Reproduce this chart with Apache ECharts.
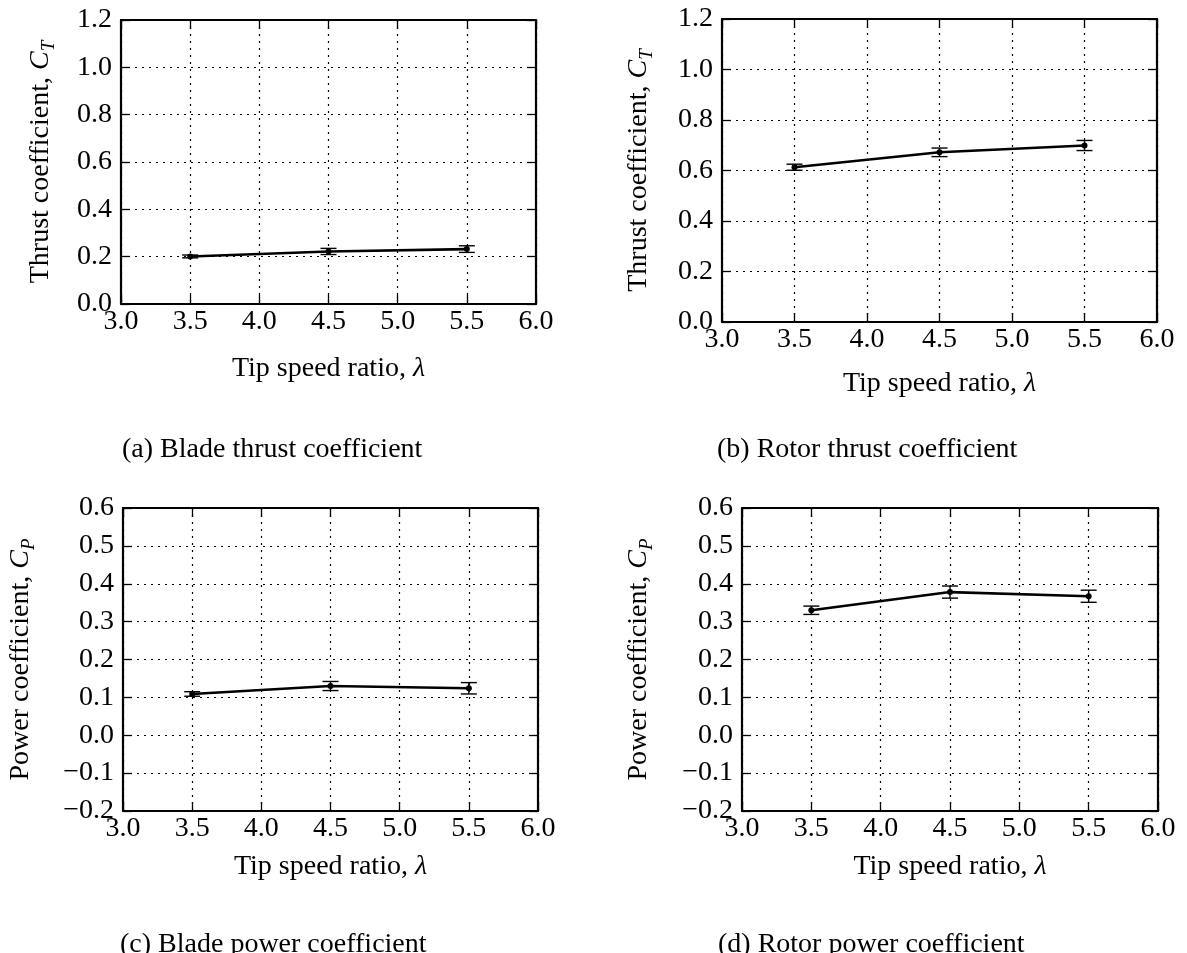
<!DOCTYPE html>
<html>
<head>
<meta charset="utf-8">
<script src="https://cdn.jsdelivr.net/npm/echarts@6/dist/echarts.min.js"></script>
<style>
html,body{margin:0;padding:0;background:#fff;}
#chart{width:1187px;height:953px;}
</style>
</head>
<body>
<div id="chart"></div>
<script>
// ---- data ----
const tipSpeedRatio = [3.5, 4.5, 5.5];
const bladeCT = [0.201, 0.222, 0.232];
const bladeCTErr = [0.006, 0.013, 0.014];
const rotorCT = [0.613, 0.672, 0.699];
const rotorCTErr = [0.012, 0.017, 0.020];
const bladeCP = [0.109, 0.130, 0.124];
const bladeCPErr = [0.006, 0.012, 0.015];
const rotorCP = [0.330, 0.378, 0.367];
const rotorCPErr = [0.011, 0.016, 0.016];

const xTicks = {min: 3.0, max: 6.0, interval: 0.5};
const ctTicks = {min: 0.0, max: 1.2, interval: 0.2};
const cpTicks = {min: -0.2, max: 0.6, interval: 0.1};

const captions = ['(a) Blade thrust coefficient', '(b) Rotor thrust coefficient',
                  '(c) Blade power coefficient', '(d) Rotor power coefficient'];
const xName = 'Tip speed ratio, {i|λ}';
const ctName = '{n|Thrust coefficient, }{i|C}{s|T}';
const cpName = '{n|Power coefficient, }{i|C}{s|P}';

// ---- layout ----
const FONT = 'Liberation Serif, Times New Roman, serif';
const FS = 28;
const panels = [
  {grid: {left: 121, top: 20, width: 415, height: 284}, ticks: ctTicks, yName: ctName, y: bladeCT, e: bladeCTErr, xGap: 48, yGap: 63, cap: [122, 436]},
  {grid: {left: 722, top: 19, width: 435, height: 303}, ticks: ctTicks, yName: ctName, y: rotorCT, e: rotorCTErr, xGap: 45, yGap: 66, cap: [717, 436]},
  {grid: {left: 123, top: 508, width: 415, height: 303}, ticks: cpTicks, yName: cpName, y: bladeCP, e: bladeCPErr, xGap: 39, yGap: 85, cap: [120, 931]},
  {grid: {left: 742, top: 508, width: 416, height: 303}, ticks: cpTicks, yName: cpName, y: rotorCP, e: rotorCPErr, xGap: 39, yGap: 86, cap: [718, 931]}
];

const fmt = v => {
  const s = Math.abs(v) < 1e-9 ? '0.0' : v.toFixed(1);
  return s.replace('-', '\u2212');
};

const textBase = {fontFamily: FONT, fontSize: FS, color: '#000'};
const rich = {
  n: {fontFamily: FONT, fontSize: FS, color: '#000', lineHeight: 34},
  i: {fontFamily: FONT, fontSize: FS, color: '#000', fontStyle: 'italic', lineHeight: 34},
  s: {fontFamily: FONT, fontSize: 19, color: '#000', fontStyle: 'italic', lineHeight: 34, verticalAlign: 'bottom'}
};

const grids = [], xAxes = [], yAxes = [], series = [], graphics = [];
const tickStyle = {show: true, inside: true, length: 9, lineStyle: {color: '#000', width: 1.3}};
const frameLine = {show: true, onZero: false, lineStyle: {color: '#000', width: 2.2}};
const gridDots = {show: true, lineStyle: {color: '#000', width: 1.2, type: [2, 5]}};

panels.forEach((p, k) => {
  grids.push(Object.assign({containLabel: false}, p.grid));
  // bottom x
  xAxes.push({type: 'value', gridIndex: k, position: 'bottom', ...xTicks,
    axisLine: frameLine, axisTick: tickStyle, splitLine: gridDots,
    axisLabel: {...textBase, margin: 4, formatter: fmt},
    name: xName, nameLocation: 'middle', nameGap: p.xGap,
    nameTextStyle: {...textBase, rich: rich}});
  // top x (mirror ticks)
  xAxes.push({type: 'value', gridIndex: k, position: 'top', ...xTicks,
    axisLine: frameLine, axisTick: tickStyle, splitLine: {show: false},
    axisLabel: {show: false}});
  // left y
  yAxes.push({type: 'value', gridIndex: k, position: 'left', ...p.ticks,
    axisLine: frameLine, axisTick: tickStyle, splitLine: gridDots,
    axisLabel: {...textBase, margin: 9, formatter: fmt},
    name: p.yName, nameLocation: 'middle', nameGap: p.yGap,
    nameTextStyle: {...textBase, rich: rich}});
  // right y (mirror ticks)
  yAxes.push({type: 'value', gridIndex: k, position: 'right', ...p.ticks,
    axisLine: frameLine, axisTick: tickStyle, splitLine: {show: false},
    axisLabel: {show: false}});

  const pts = tipSpeedRatio.map((x, i) => [x, p.y[i]]);
  const errPts = tipSpeedRatio.map((x, i) => [x, p.y[i], p.e[i]]);
  series.push({type: 'line', xAxisIndex: 2 * k, yAxisIndex: 2 * k, data: pts,
    symbol: 'circle', symbolSize: 6, itemStyle: {color: '#000'},
    lineStyle: {color: '#000', width: 2.6}, z: 5, silent: true});
  series.push({type: 'custom', xAxisIndex: 2 * k, yAxisIndex: 2 * k, data: errPts, z: 6, silent: true,
    renderItem: (params, api) => {
      const x = api.value(0), y = api.value(1), e = api.value(2);
      const t = api.coord([x, y + e]), b = api.coord([x, y - e]);
      const hw = 8;
      const st = {stroke: '#000', lineWidth: 1.4};
      return {type: 'group', children: [
        {type: 'line', shape: {x1: t[0], y1: t[1], x2: b[0], y2: b[1]}, style: st},
        {type: 'line', shape: {x1: t[0] - hw, y1: t[1], x2: t[0] + hw, y2: t[1]}, style: st},
        {type: 'line', shape: {x1: b[0] - hw, y1: b[1], x2: b[0] + hw, y2: b[1]}, style: st}
      ]};
    }});
  graphics.push({type: 'text', left: p.cap[0], top: p.cap[1],
    style: {text: captions[k], font: FS + 'px ' + FONT, fill: '#000'}});
});

const chart = echarts.init(document.getElementById('chart'), null, {renderer: 'canvas'});
chart.setOption({
  animation: false,
  backgroundColor: '#fff',
  grid: grids, xAxis: xAxes, yAxis: yAxes, series: series, graphic: graphics
});
</script>
</body>
</html>
